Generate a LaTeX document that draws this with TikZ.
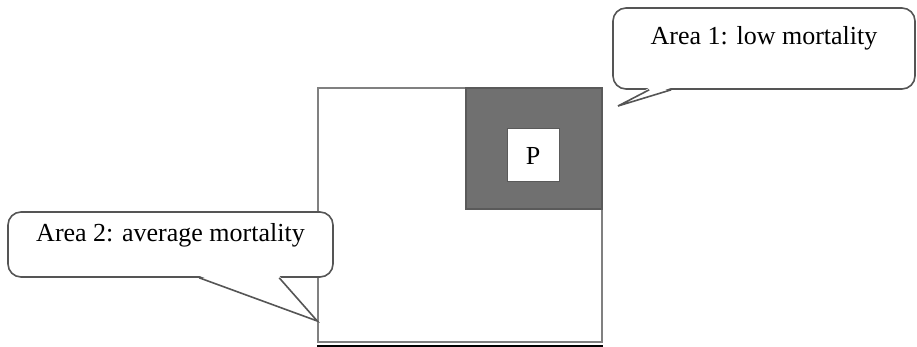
\documentclass[tikz,border=0pt]{standalone}
\usepackage{fontspec}
\setmainfont{Liberation Serif}
\usetikzlibrary{calc}
\definecolor{boxline}{RGB}{128,128,128}
\definecolor{darkfill}{RGB}{112,112,112}
\definecolor{darkline}{RGB}{90,90,90}
\definecolor{callline}{RGB}{85,85,85}
\tikzset{
  txt/.style={font=\fontsize{26}{30}\selectfont},
  calloutbox/.style={draw=callline, line width=1.6pt, fill=white, rounded corners=13pt,
     inner sep=0pt, txt, text height=18pt, text depth=25pt},
  tailline/.style={draw=callline, line width=1.6pt, line join=miter},
}
\begin{document}
\begin{tikzpicture}[x=1pt,y=-1pt]
\useasboundingbox (0,0) rectangle (917,347);
% main area
\node[draw=boxline, line width=1.5pt, fill=white, minimum width=284pt, minimum height=254pt, inner sep=0pt] (area) at (460,215) {};
\draw[line width=3pt, black] ([yshift=-3.5pt]area.south west) -- ([yshift=-3.5pt]area.south east);
% low mortality area
\node[draw=darkline, line width=1.5pt, fill=darkfill, minimum width=136pt, minimum height=121pt, inner sep=0pt] (low) at (534,148.5) {};
\node[draw=darkline, line width=1pt, fill=white, minimum width=52pt, minimum height=53pt, inner sep=0pt, txt] (p) at (533,155.5) {P};
% callout 1
\node[calloutbox, minimum width=302pt, minimum height=81pt] (c1) at (764,48.5) {Area 1: low mortality};
\coordinate (c1b1) at ($(c1.south west)+(37,0)$);
\coordinate (c1b2) at ($(c1.south west)+(59,0)$);
\coordinate (c1tip) at (618,106);
\fill[white] ([yshift=2pt]c1b1) -- (c1tip) -- ([yshift=2pt]c1b2) -- cycle;
\draw[tailline] (c1b1) -- (c1tip) -- (c1b2);
% callout 2
\node[calloutbox, minimum width=325pt, minimum height=65pt] (c2) at (170.5,244.5) {Area 2: average mortality};
\coordinate (c2b1) at ($(c2.south west)+(192,0)$);
\coordinate (c2b2) at ($(c2.south west)+(272,0)$);
\coordinate (c2tip) at ($(area.west)+(0,106)$);
\fill[white] ([yshift=2pt]c2b1) -- (c2tip) -- ([yshift=2pt]c2b2) -- cycle;
\draw[tailline] (c2b1) -- (c2tip) -- (c2b2);
\end{tikzpicture}
\end{document}
